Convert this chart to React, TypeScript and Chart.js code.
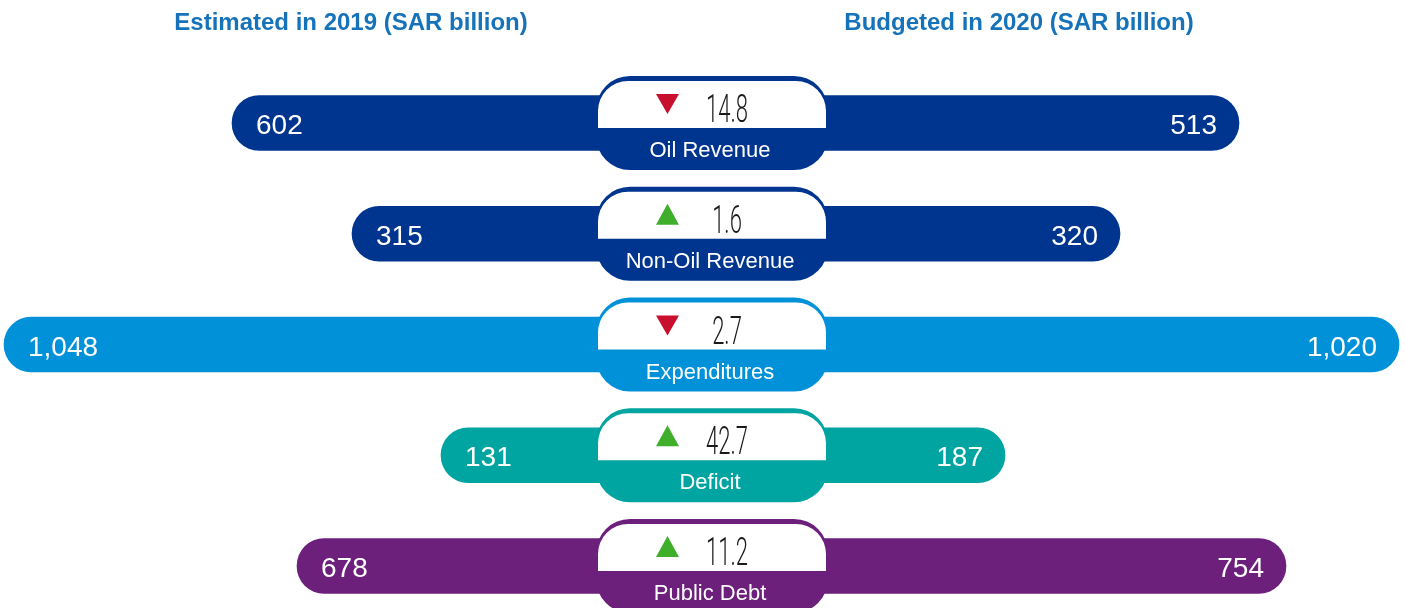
import React, { useEffect, useRef } from "react";
import { Chart, registerables } from "chart.js";

Chart.register(...registerables);

const categories = ["Oil Revenue", "Non-Oil Revenue", "Expenditures", "Deficit", "Public Debt"];
const estimated2019 = [602, 315, 1048, 131, 678];
const budgeted2020 = [513, 320, 1020, 187, 754];
const changePct = [14.8, 1.6, 2.7, 42.7, 11.2];
// displayed bar lengths (the source graphic is not drawn to scale)
const leftBarLength = [480, 360, 708, 271, 415];
const rightBarLength = [527, 408, 687, 293, 574];
const rowColors = ["#00358F", "#00358F", "#0091D8", "#00A4A1", "#6C1F7B"];
const titleLeft = "Estimated in 2019 (SAR billion)";
const titleRight = "Budgeted in 2020 (SAR billion)";

const fmt = (v: number) => v.toLocaleString("en-US");

const overlayPlugin = {
  id: "overlay",
  afterDatasetsDraw(chart: any) {
    const ctx: CanvasRenderingContext2D = chart.ctx;
    const xs = chart.scales.x;
    const ys = chart.scales.y;
    const c = xs.getPixelForValue(0);
    ctx.save();
    // titles
    ctx.fillStyle = "#1673BA";
    ctx.font = 'bold 24px "Liberation Sans", Arial, sans-serif';
    ctx.textAlign = "center";
    ctx.textBaseline = "alphabetic";
    ctx.fillText(titleLeft, c - 361, 30);
    ctx.fillText(titleRight, c + 307, 30);

    categories.forEach((cat, i) => {
      const y = ys.getPixelForValue(i);
      const col = rowColors[i];
      // badge
      ctx.fillStyle = col;
      ctx.beginPath();
      ctx.roundRect(c - 116, y - 47, 232, 94, 34);
      ctx.fill();
      ctx.fillStyle = "#ffffff";
      ctx.beginPath();
      ctx.roundRect(c - 114, y - 42, 228, 47, [30, 30, 0, 0]);
      ctx.fill();
      // triangle
      const up = budgeted2020[i] > estimated2019[i];
      const tx = c - 44.5;
      ctx.fillStyle = up ? "#3FAE2A" : "#C8102E";
      ctx.beginPath();
      if (up) {
        ctx.moveTo(tx, y - 30);
        ctx.lineTo(tx + 11.5, y - 9);
        ctx.lineTo(tx - 11.5, y - 9);
      } else {
        ctx.moveTo(tx - 11.5, y - 29);
        ctx.lineTo(tx + 11.5, y - 29);
        ctx.lineTo(tx, y - 9);
      }
      ctx.closePath();
      ctx.fill();
      // change number
      ctx.save();
      ctx.translate(c + 15, y - 1);
      ctx.scale(0.58, 1);
      ctx.fillStyle = "#1a1a1a";
      ctx.font = '300 38px Roboto, sans-serif';
      ctx.textAlign = "center";
      ctx.fillText(String(changePct[i]), 0, 0);
      ctx.restore();
      // category label
      ctx.fillStyle = "#ffffff";
      ctx.font = '22px "Liberation Sans", Arial, sans-serif';
      ctx.textAlign = "center";
      ctx.fillText(cat, c - 2, y + 34);
      // value labels
      ctx.font = '28px "Liberation Sans", Arial, sans-serif';
      ctx.textAlign = "left";
      ctx.fillText(fmt(estimated2019[i]), xs.getPixelForValue(-leftBarLength[i]) + 24, y + 11);
      ctx.textAlign = "right";
      ctx.fillText(fmt(budgeted2020[i]), xs.getPixelForValue(rightBarLength[i]) - 22, y + 11);
    });
    ctx.restore();
  },
};

export default function App() {
  const ref = useRef<HTMLCanvasElement | null>(null);
  useEffect(() => {
    document.body.style.margin = "0";
    const canvas = ref.current!;
    const chart = new Chart(canvas, {
      type: "bar",
      data: {
        labels: categories,
        datasets: [
          {
            label: "Estimated 2019",
            data: leftBarLength.map((v) => [-v, 0]) as any,
            backgroundColor: rowColors,
            grouped: false,
            barThickness: 55,
            borderRadius: 28,
            borderSkipped: false,
            clip: false,
          } as any,
          {
            label: "Budgeted 2020",
            data: rightBarLength.map((v) => [0, v]) as any,
            backgroundColor: rowColors,
            grouped: false,
            barThickness: 55,
            borderRadius: 28,
            borderSkipped: false,
            clip: false,
          } as any,
        ],
      },
      options: {
        indexAxis: "y",
        animation: false,
        responsive: false,
        maintainAspectRatio: false,
        layout: { padding: { top: 123, bottom: 42, left: 0, right: 0 } },
        scales: {
          x: { type: "linear", min: -712, max: 693, display: false },
          y: { type: "category", offset: false, display: false },
        },
        plugins: { legend: { display: false }, tooltip: { enabled: false } },
      },
      plugins: [overlayPlugin],
    });
    return () => chart.destroy();
  }, []);
  return (
    <div style={{ width: 1405, height: 608 }}>
      <canvas ref={ref} width={1405} height={608} style={{ display: "block" }} />
    </div>
  );
}
